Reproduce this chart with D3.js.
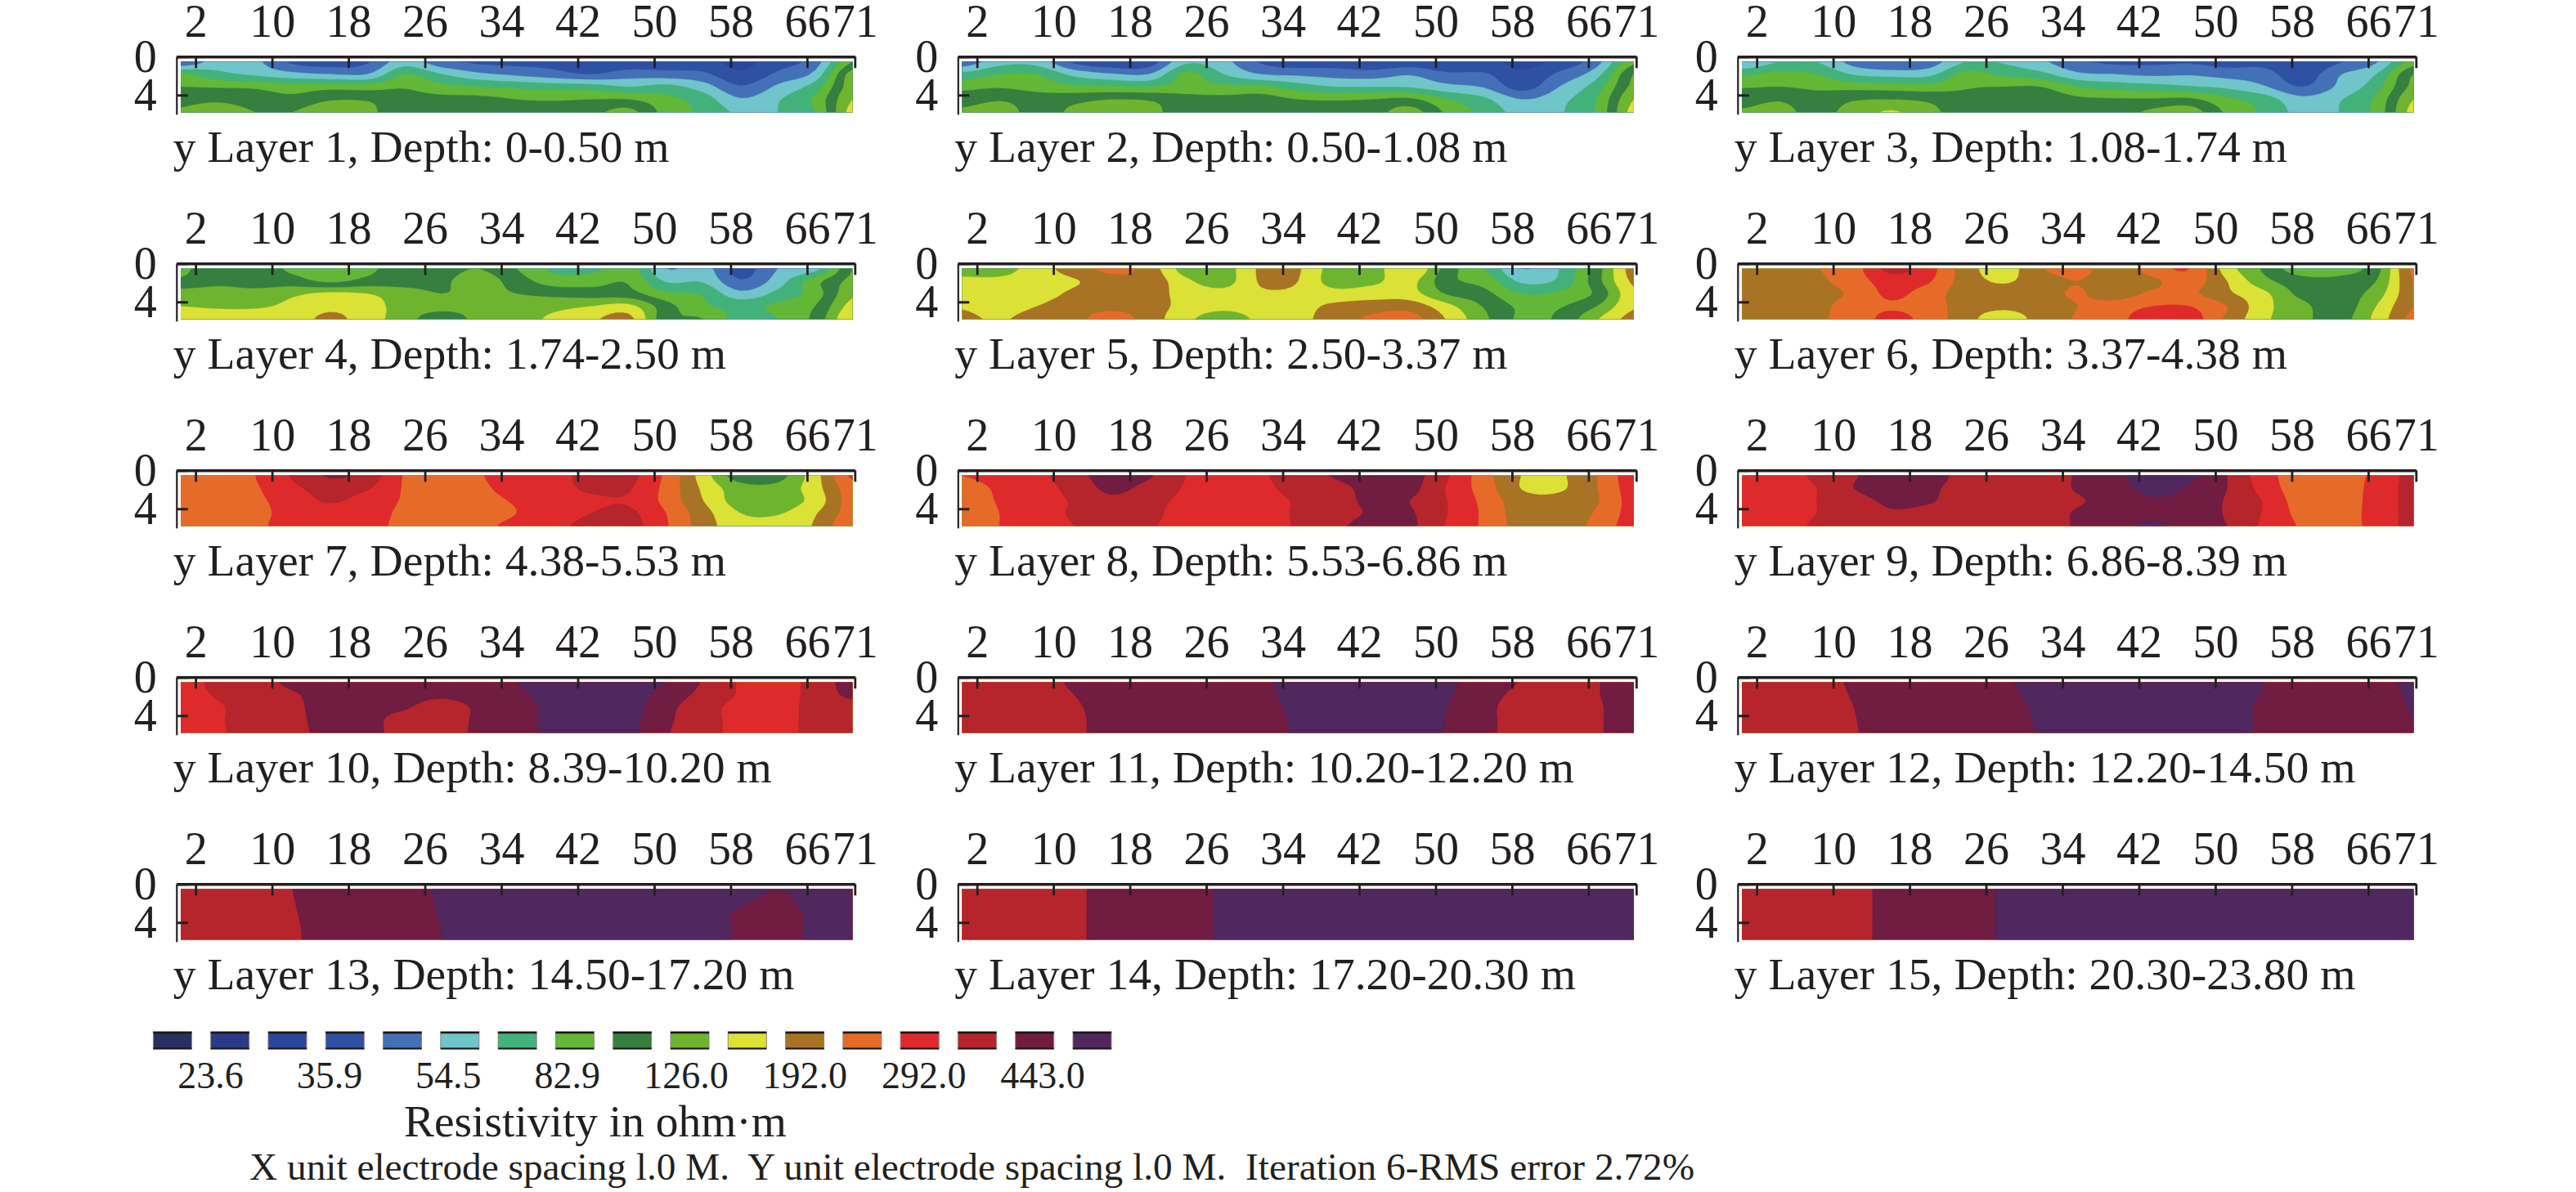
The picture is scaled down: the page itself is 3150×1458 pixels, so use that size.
<!DOCTYPE html>
<html><head><meta charset="utf-8">
<script src="https://cdn.jsdelivr.net/npm/d3@7"></script>
<style>html,body{margin:0;padding:0;background:#fff}svg{display:block}
text{font-family:"Liberation Serif",serif;fill:#231f20}
.axis path,.axis line{stroke:#231f20}</style></head><body>
<svg id="c" width="3150" height="1458"></svg>
<script>
// Resistivity, in colour-class units (class k = k-th legend swatch), 19 columns x 5 depth rows
const layer1=[[4.0,5.5,5.2,3.8,3.5,3.9,5.5,4.3,3.8,3.7,3.7,3.2,3.3,3.4,3.4,2.7,3.6,4.5,8.0],
[7.2,6.3,5.8,5.3,5.0,5.0,7.0,6.0,5.2,4.8,4.4,4.0,4.5,4.4,4.2,3.2,4.2,5.3,9.5],
[8.0,7.9,7.8,7.4,7.6,7.5,7.9,7.3,7.0,6.8,6.6,6.5,6.0,6.3,5.5,4.1,5.2,6.5,9.6],
[8.7,8.8,8.5,8.3,8.9,8.9,8.4,8.3,8.3,8.0,7.9,8.0,8.0,7.3,6.5,5.1,5.9,7.2,10.0],
[9.1,9.5,9.0,9.0,9.7,9.2,8.5,8.5,8.6,8.4,8.5,8.7,9.3,7.6,6.8,5.8,6.0,7.0,10.4]];
const layer2=[[4.3,5.6,5.6,3.8,3.2,3.4,5.8,5.3,3.9,3.4,3.5,3.2,3.4,3.0,3.3,2.7,3.3,4.6,7.8],
[6.3,7.0,7.0,5.7,5.1,5.0,7.2,6.0,5.0,4.8,4.6,4.5,4.9,4.2,4.1,3.2,4.2,5.6,9.0],
[7.7,7.9,7.6,7.2,7.1,7.0,7.4,7.2,7.2,6.5,6.0,6.0,5.9,5.3,4.9,3.6,5.0,6.5,9.3],
[8.5,8.9,8.5,8.7,9.0,8.9,8.4,8.3,8.4,8.0,7.9,8.0,8.2,7.0,6.2,5.0,5.7,7.0,10.0],
[9.2,9.5,8.6,9.2,9.6,9.3,8.5,8.5,8.5,8.5,8.4,8.6,9.4,7.8,6.7,5.6,5.9,7.1,10.4]];
const layer3=[[5.0,6.0,6.0,4.6,4.0,4.4,6.0,5.9,5.2,4.2,3.8,3.8,3.9,3.6,3.7,3.0,3.9,4.9,7.5],
[6.8,7.3,7.0,5.9,5.6,5.7,7.3,6.8,6.3,5.2,5.0,4.8,4.9,4.6,4.4,3.4,4.9,6.0,9.0],
[7.9,8.0,7.8,7.6,7.5,7.4,7.9,8.0,8.0,7.0,6.6,6.4,6.1,5.8,5.1,4.0,5.2,6.6,9.3],
[8.6,8.9,8.4,8.9,9.0,8.8,8.3,8.5,8.6,8.2,8.1,8.1,8.2,7.2,6.5,5.3,5.9,7.2,10.0],
[9.1,9.3,8.7,9.4,10.1,9.3,8.5,8.5,8.4,8.4,8.5,9.2,9.5,7.8,6.8,5.7,6.0,7.3,10.4]];
const layer4=[[7.8,8.6,8.6,7.8,7.5,7.8,8.5,8.6,9.0,8.0,6.8,6.7,7.5,5.0,5.4,3.6,5.0,5.6,9.0],
[8.2,8.7,8.5,8.4,7.8,8.3,8.6,8.8,9.5,8.5,7.5,7.6,7.9,5.9,5.9,4.1,5.5,7.6,9.3],
[9.5,9.5,9.4,9.8,10.2,10.0,9.4,9.0,9.3,9.0,8.7,8.5,8.4,7.2,6.9,5.3,6.3,7.5,9.8],
[10.0,9.9,9.9,10.2,10.7,10.4,9.6,9.4,9.4,9.5,9.7,10.0,10.3,8.4,7.2,6.7,7.2,8.0,10.4],
[10.3,10.4,10.4,10.4,11.3,10.4,9.5,8.2,9.4,9.6,10.2,10.8,11.3,8.3,8.0,6.6,7.0,8.3,11.0]];
const layer5=[[9.6,9.6,10.5,11.5,12.3,11.6,9.5,9.5,11.15,11.1,9.5,9.5,11.0,8.5,7.0,5.0,6.0,8.5,11.5],
[10.2,10.2,10.5,10.9,11.6,11.7,10.2,9.6,11.1,11.0,9.5,9.8,10.3,8.3,7.6,5.8,6.2,8.6,11.2],
[10.4,10.4,10.6,11.2,11.8,11.5,10.6,10.3,10.85,10.8,10.4,10.5,10.4,8.9,8.3,7.0,7.2,8.2,10.8],
[10.9,10.6,11.0,11.5,11.7,11.4,10.7,10.3,10.6,10.7,11.2,11.5,11.6,10.3,8.9,7.8,7.9,9.0,10.9],
[11.2,10.9,11.4,11.6,12.6,11.5,10.3,9.3,10.3,10.7,11.5,12.2,12.4,10.9,9.2,7.8,8.2,9.9,11.4]];
const layer6=[[11.5,11.5,11.95,12.6,14.3,13.4,11.5,10.5,11.9,12.4,11.4,12.5,13.0,10.5,8.8,7.4,7.5,8.6,12.3],
[11.5,11.5,11.8,12.5,13.5,13.1,11.5,10.9,11.5,12.0,11.4,11.8,12.5,11.0,9.3,8.4,8.3,9.0,12.0],
[11.5,11.5,11.6,12.2,13.2,12.5,11.5,11.3,11.6,12.1,11.5,12.2,12.2,11.2,10.2,8.7,8.4,9.5,11.8],
[11.5,11.5,11.7,12.5,12.9,12.5,11.5,11.2,11.5,12.0,12.5,13.0,13.0,12.0,10.3,9.3,8.4,10.0,12.0],
[11.5,11.5,11.85,12.4,13.3,12.6,11.4,10.4,11.4,12.1,12.7,13.5,13.5,11.8,10.2,9.3,8.6,10.3,12.3]];
const layer7=[[12.5,12.5,13.0,14.1,15.1,14.6,12.9,12.0,12.9,13.5,13.6,14.4,14.3,12.8,10.5,8.4,8.6,10.6,13.2],
[12.5,12.5,12.9,13.8,14.4,14.1,12.9,12.4,12.8,13.4,13.6,14.2,14.1,12.7,10.8,9.4,9.3,10.6,12.6],
[12.5,12.5,12.8,13.5,14.1,13.6,12.9,12.5,12.7,13.1,13.5,13.8,13.9,12.7,11.0,9.5,9.4,10.4,12.5],
[12.5,12.5,12.7,13.4,13.6,13.4,12.8,12.5,12.7,13.0,13.5,14.0,14.2,13.0,11.4,10.0,9.9,10.9,12.5],
[12.5,12.5,12.8,13.4,13.5,13.2,12.8,12.2,12.8,13.2,13.7,14.3,14.4,13.1,11.5,10.4,10.5,11.1,13.0]];
const layer8=[[13.0,13.5,13.7,14.7,15.3,15.1,14.0,13.5,13.9,14.4,15.1,15.4,15.4,14.1,12.4,10.97,10.85,12.0,13.6],
[12.4,13.2,13.5,14.4,15.2,14.7,13.9,13.5,13.8,14.3,14.7,15.3,15.3,13.9,12.5,10.95,10.85,11.95,13.5],
[12.3,13.1,13.6,14.1,14.8,14.3,13.8,13.5,13.7,14.1,14.6,15.2,15.0,14.0,12.7,11.4,11.3,11.9,13.4],
[12.4,13.0,13.6,14.1,14.5,14.2,13.7,13.5,13.7,14.1,14.6,15.1,15.1,14.0,12.8,11.5,11.4,12.1,13.4],
[12.5,13.0,13.7,14.0,14.4,14.1,13.7,13.6,13.7,14.1,14.8,15.3,15.2,13.9,12.8,11.6,11.4,12.3,13.5]];
const layer9=[[13.5,13.5,14.2,14.9,15.6,15.5,14.6,14.4,14.5,15.1,15.8,16.3,16.2,15.0,13.4,12.5,12.3,13.3,14.3],
[13.5,13.6,14.0,15.0,15.5,15.2,14.6,14.4,14.5,15.1,15.7,16.2,15.9,15.0,13.6,12.4,12.3,13.4,14.3],
[13.5,13.7,14.0,14.6,15.2,15.1,14.5,14.4,14.5,14.9,15.4,15.9,15.7,14.9,13.9,12.5,12.4,13.4,14.3],
[13.5,13.7,14.0,14.4,14.9,14.7,14.5,14.4,14.5,15.1,15.4,15.7,15.5,14.9,13.9,12.7,12.5,13.4,14.3],
[13.5,13.7,14.1,14.4,14.7,14.6,14.5,14.5,14.6,15.1,15.5,16.2,15.5,15.0,13.8,12.9,12.5,13.4,14.3]];
const layer10=[[13.5,14.3,14.6,15.2,15.4,15.5,15.5,15.5,15.6,16.0,16.5,16.5,16.5,16.0,14.9,13.9,13.5,14.4,15.4],
[13.6,14.1,14.5,14.9,15.4,15.5,15.4,15.2,15.5,15.8,16.4,16.5,16.5,15.6,14.7,13.9,13.5,14.4,15.2],
[13.6,13.9,14.5,14.8,15.4,15.3,15.1,14.5,15.2,15.7,16.2,16.5,16.4,15.3,14.4,13.7,13.5,14.4,14.6],
[13.6,13.9,14.5,14.8,15.3,15.3,14.6,14.5,15.2,15.7,16.2,16.5,16.3,15.2,14.4,13.7,13.5,14.4,14.5],
[13.7,13.9,14.4,14.8,15.2,15.3,14.6,14.6,15.2,15.7,16.2,16.5,16.3,15.1,14.4,13.7,13.5,14.4,14.4]];
const layer11=[[14.5,14.5,14.7,15.1,15.3,15.4,15.5,15.6,15.9,16.2,16.5,16.5,16.4,16.2,15.4,14.95,14.5,14.95,15.4],
[14.5,14.5,14.6,15.0,15.3,15.4,15.5,15.6,15.85,16.2,16.5,16.5,16.4,16.1,15.3,14.8,14.5,14.95,15.4],
[14.5,14.5,14.6,14.9,15.3,15.4,15.5,15.6,15.8,16.15,16.5,16.5,16.4,16.0,15.2,14.7,14.5,14.9,15.4],
[14.5,14.5,14.6,14.85,15.3,15.4,15.5,15.6,15.75,16.1,16.5,16.5,16.4,15.95,15.2,14.7,14.5,14.9,15.4],
[14.5,14.5,14.6,14.85,15.3,15.4,15.5,15.6,15.75,16.1,16.5,16.5,16.4,15.95,15.2,14.7,14.5,14.9,15.4]];
const layer12=[[14.5,14.5,14.7,15.1,15.3,15.4,15.5,15.9,16.2,16.4,16.5,16.5,16.5,16.3,16.0,15.5,15.4,15.7,16.2],
[14.5,14.5,14.65,15.05,15.3,15.4,15.5,15.85,16.15,16.4,16.5,16.5,16.5,16.25,15.95,15.5,15.4,15.65,16.1],
[14.5,14.5,14.6,15.0,15.3,15.4,15.5,15.8,16.1,16.4,16.5,16.5,16.5,16.2,15.9,15.5,15.4,15.6,16.05],
[14.5,14.5,14.6,14.97,15.3,15.4,15.5,15.77,16.07,16.4,16.5,16.5,16.5,16.2,15.9,15.5,15.4,15.55,16.0],
[14.5,14.5,14.6,14.95,15.3,15.4,15.5,15.75,16.05,16.4,16.5,16.5,16.5,16.2,15.9,15.5,15.4,15.5,15.95]];
const layer13=[[14.5,14.5,14.7,15.0,15.3,15.4,15.7,16.1,16.4,16.5,16.5,16.5,16.5,16.5,16.5,16.3,16.0,16.3,16.5],
[14.5,14.5,14.7,14.98,15.3,15.4,15.68,16.08,16.4,16.5,16.5,16.5,16.5,16.5,16.4,16.1,15.8,16.3,16.5],
[14.5,14.5,14.65,14.95,15.3,15.4,15.65,16.05,16.4,16.5,16.5,16.5,16.5,16.5,16.3,15.9,15.6,16.2,16.5],
[14.5,14.5,14.65,14.92,15.3,15.4,15.62,16.02,16.4,16.5,16.5,16.5,16.5,16.5,16.3,15.9,15.6,16.2,16.5],
[14.5,14.5,14.6,14.9,15.3,15.4,15.6,16.0,16.4,16.5,16.5,16.5,16.5,16.5,16.3,15.9,15.6,16.2,16.5]];
const layer14=[[14.5,14.5,14.6,14.85,15.3,15.4,15.7,16.1,16.4,16.5,16.5,16.5,16.5,16.5,16.5,16.5,16.5,16.5,16.5],
[14.5,14.5,14.6,14.85,15.3,15.4,15.7,16.1,16.4,16.5,16.5,16.5,16.5,16.5,16.5,16.5,16.5,16.5,16.5],
[14.5,14.5,14.6,14.85,15.3,15.4,15.7,16.1,16.4,16.5,16.5,16.5,16.5,16.5,16.5,16.5,16.5,16.5,16.5],
[14.5,14.5,14.6,14.85,15.3,15.4,15.7,16.1,16.4,16.5,16.5,16.5,16.5,16.5,16.5,16.5,16.5,16.5,16.5],
[14.5,14.5,14.6,14.85,15.3,15.4,15.7,16.1,16.4,16.5,16.5,16.5,16.5,16.5,16.5,16.5,16.5,16.5,16.5]];
const layer15=[[14.5,14.5,14.6,14.8,15.2,15.4,15.6,16.1,16.4,16.5,16.5,16.5,16.5,16.5,16.5,16.5,16.5,16.5,16.5],
[14.5,14.5,14.6,14.8,15.2,15.4,15.6,16.1,16.4,16.5,16.5,16.5,16.5,16.5,16.5,16.5,16.5,16.5,16.5],
[14.5,14.5,14.6,14.8,15.2,15.4,15.6,16.1,16.4,16.5,16.5,16.5,16.5,16.5,16.5,16.5,16.5,16.5,16.5],
[14.5,14.5,14.6,14.8,15.2,15.4,15.6,16.1,16.4,16.5,16.5,16.5,16.5,16.5,16.5,16.5,16.5,16.5,16.5],
[14.5,14.5,14.6,14.8,15.2,15.4,15.6,16.1,16.4,16.5,16.5,16.5,16.5,16.5,16.5,16.5,16.5,16.5,16.5]];
const layers=[layer1,layer2,layer3,layer4,layer5,layer6,layer7,layer8,layer9,layer10,layer11,layer12,layer13,layer14,layer15];
const depths=["0-0.50","0.50-1.08","1.08-1.74","1.74-2.50","2.50-3.37","3.37-4.38","4.38-5.53","5.53-6.86","6.86-8.39","8.39-10.20","10.20-12.20","12.20-14.50","14.50-17.20","17.20-20.30","20.30-23.80"];
const xTicks=[2,10,18,26,34,42,50,58,66,71];
const yTicks=[0,4];
const swatchColors=["#28305f","#2b3a86","#2a479b","#2f51a3","#4470b8","#6fc5c9","#43b27a","#62b737","#357f3f","#6fb42f","#dce136","#a87324","#e66b29","#df2a2c","#b6252c","#711c41","#50275e"];
const legendLabels=["23.6","35.9","54.5","82.9","126.0","192.0","292.0","443.0"];

const svg=d3.select("#c");
const colX=[215.8,1171.3,2124.8], rowY=[69.3,322.3,575.3,828.3,1081.3];
const F=6; // contour refinement of the 19x5 grid
const cr=(a,b,c,d,t)=>0.5*(2*b+(c-a)*t+(2*a-5*b+4*c-d)*t*t+(3*b-a-3*c+d)*t*t*t);
function refine(g){
  const R=g.length,C=g[0].length,W=(C-1)*F+1,H=(R-1)*F+1,out=new Float64Array(W*H);
  const at=(r,c)=>g[Math.max(0,Math.min(R-1,r))][Math.max(0,Math.min(C-1,c))];
  for(let j=0;j<H;j++){const r=Math.min(R-2,Math.floor(j/F)),v=j/F-r;
    for(let i=0;i<W;i++){const c=Math.min(C-2,Math.floor(i/F)),u=i/F-c;
      const col=k=>cr(at(r-1,c+k),at(r,c+k),at(r+1,c+k),at(r+2,c+k),v);
      out[j*W+i]=cr(col(-1),col(0),col(1),col(2),u);}}
  return {W,H,values:out};
}
const contourThresholds=d3.range(0,swatchColors.length);
const defs=svg.append("defs");
layers.forEach((grid,idx)=>{
  const ci=idx%3,ri=Math.floor(idx/3);
  const x=d3.scaleLinear().domain([0,71]).range([colX[ci],colX[ci]+829.5]);
  const y=d3.scaleLinear().domain([0,6]).range([rowY[ri],rowY[ri]+70.5]);
  const colToX=d3.scaleLinear().domain([0,18]).range([0.45,70.75]);
  const rowToY=d3.scaleLinear().domain([0,4]).range([0.52,5.78]);
  const g=svg.append("g");
  const id="clip"+idx;
  defs.append("clipPath").attr("id",id).append("rect")
    .attr("x",x(colToX(0))).attr("y",y(rowToY(0)))
    .attr("width",x(colToX(18))-x(colToX(0))).attr("height",y(rowToY(4))-y(rowToY(0)));
  const {W,H,values}=refine(grid);
  const cs=d3.contours().size([W,H]).smooth(true).thresholds(contourThresholds)(values);
  const path=d3.geoPath(d3.geoTransform({point(a,b){
    this.stream.point(x(colToX((a-0.5)/F)),y(rowToY((b-0.5)/F)));}}));
  g.append("g").attr("clip-path",`url(#${id})`).selectAll("path").data(cs).join("path")
    .attr("d",path).attr("fill",d=>swatchColors[d.value]).attr("stroke",d=>swatchColors[d.value]).attr("stroke-width",0.4);
  const ax=g.append("g").attr("class","axis").attr("transform",`translate(0,${rowY[ri]})`)
    .call(d3.axisTop(x).tickValues(xTicks).tickFormat(d3.format("d")).tickSizeInner(-14).tickSizeOuter(0).tickPadding(24));
  ax.select(".domain").attr("stroke-width",3.6);
  ax.selectAll(".tick line").attr("stroke-width",2.8);
  ax.selectAll("text").attr("font-size",56).attr("font-family","Liberation Serif").attr("fill","#231f20");
  const ay=g.append("g").attr("class","axis").attr("transform",`translate(${colX[ci]},0)`)
    .call(d3.axisLeft(y).tickValues(yTicks).tickFormat(d3.format("d")).tickSizeInner(-14).tickSizeOuter(0).tickPadding(24));
  ay.select(".domain").attr("stroke-width",2.2);
  ay.selectAll(".tick line").attr("stroke-width",3);
  ay.selectAll("text").attr("font-size",56).attr("font-family","Liberation Serif").attr("fill","#231f20");
  g.append("text").attr("x",colX[ci]-4).attr("y",rowY[ri]+129).attr("font-size",55.6)
    .text(`y Layer ${idx+1}, Depth: ${depths[idx]} m`);
});
// legend
const lx=d3.scaleLinear().domain([0,16]).range([187.4,1312]);
const lg=svg.append("g");
lg.selectAll("rect").data(swatchColors).join("rect")
  .attr("x",(d,i)=>lx(i)).attr("y",1262).attr("width",47).attr("height",21).attr("fill",d=>d)
  .attr("stroke","#8a8580").attr("stroke-width",1);
lg.selectAll("line.t").data(swatchColors).join("line").attr("class","t")
  .attr("x1",(d,i)=>lx(i)).attr("x2",(d,i)=>lx(i)+47).attr("y1",1263).attr("y2",1263).attr("stroke","#1a1512").attr("stroke-width",2.6);
lg.selectAll("line.b").data(swatchColors).join("line").attr("class","b")
  .attr("x1",(d,i)=>lx(i)).attr("x2",(d,i)=>lx(i)+47).attr("y1",1282.5).attr("y2",1282.5).attr("stroke","#1a1512").attr("stroke-width",2);
const tl=d3.scaleLinear().domain([0,7]).range([257.6,1275]);
lg.selectAll("text").data(legendLabels).join("text").attr("x",(d,i)=>tl(i)).attr("y",1331)
  .attr("text-anchor","middle").attr("font-size",46).text(d=>d);
svg.append("text").attr("x",494).attr("y",1390).attr("font-size",55.4).text("Resistivity in ohm·m");
svg.append("text").attr("x",305).attr("y",1443).attr("font-size",47.3).attr("xml:space","preserve")
  .text("X unit electrode spacing l.0 M.  Y unit electrode spacing l.0 M.  Iteration 6-RMS error 2.72%");
</script></body></html>
